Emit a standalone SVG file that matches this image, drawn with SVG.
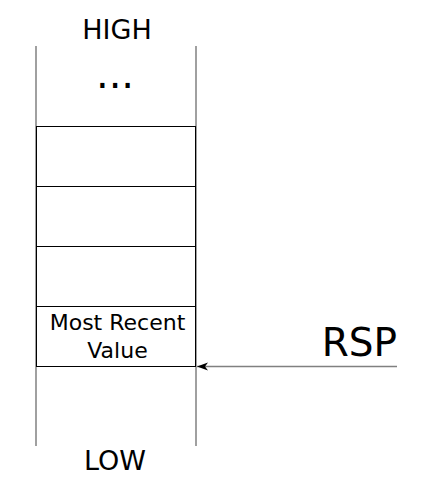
<svg xmlns="http://www.w3.org/2000/svg" width="426" height="497" viewBox="0 0 426 497">
<defs>
<style>
text{font-family:"DejaVu Sans",sans-serif;fill:#000;text-anchor:middle}
.rail{stroke:#808080;stroke-width:1.5;fill:none}
.cell{stroke:#000;stroke-width:1;fill:#fff}
</style>
<marker id="ah" viewBox="0 0 12 10" refX="11" refY="5" markerWidth="12" markerHeight="10" markerUnits="userSpaceOnUse" orient="auto">
<path d="M0,1 L11,5 L0,9 L3,5 Z" fill="#000"/>
</marker>
</defs>
<rect width="426" height="497" fill="#fff"/>
<g id="stack">
<line class="rail" x1="36" y1="46" x2="36" y2="446"/>
<line class="rail" x1="196" y1="46" x2="196" y2="446"/>
</g>
<g id="cell1"><rect class="cell" x="36.5" y="126.5" width="159" height="60"/></g>
<g id="cell2"><rect class="cell" x="36.5" y="186.5" width="159" height="60"/></g>
<g id="cell3"><rect class="cell" x="36.5" y="246.5" width="159" height="60"/></g>
<g id="cell4"><rect class="cell" x="36.5" y="306.5" width="159" height="60"/>
<text x="117.5" y="329.5" font-size="22">Most Recent</text>
<text x="117.5" y="358" font-size="22">Value</text>
</g>
<g id="high"><text x="117" y="39" font-size="27">HIGH</text></g>
<g id="dots"><text x="115" y="88" font-size="40">...</text></g>
<g id="low"><text x="115" y="470" font-size="27">LOW</text></g>
<g id="rsp"><text x="397" y="356" font-size="39" style="text-anchor:end">RSP</text></g>
<g id="connectors">
<line x1="397" y1="366.5" x2="197" y2="366.5" stroke="#808080" stroke-width="1.5" marker-end="url(#ah)"/>
</g>
</svg>
